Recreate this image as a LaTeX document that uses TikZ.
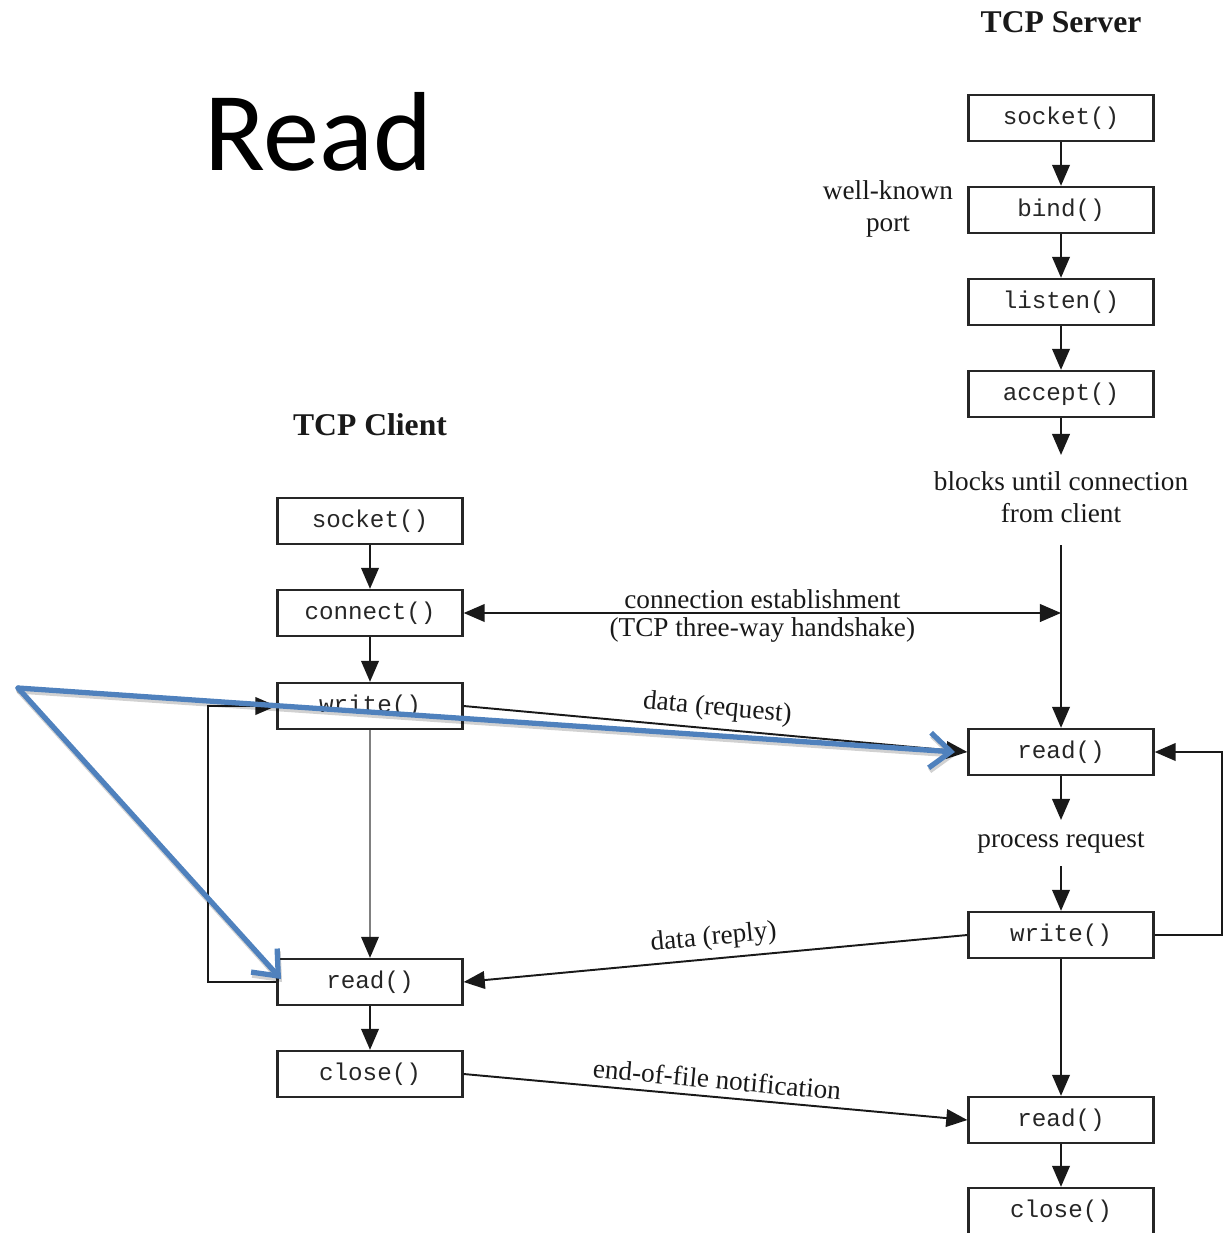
\documentclass[tikz,border=0pt]{standalone}
\usepackage{fontspec}
\setmainfont{Liberation Serif}
\setmonofont{Liberation Mono}
\newfontfamily\slidefont{Carlito}
\usetikzlibrary{arrows.meta}
\definecolor{callout}{RGB}{79,129,189}
\newlength{\pxu}
\setlength{\pxu}{0.02cm}
\tikzset{
  tip/.style={-{Triangle[length=12pt,width=10pt]}},
  fn/.style={draw=black!85, line width=1.3pt, minimum width=185\pxu, minimum height=46\pxu,
    inner sep=0pt, font=\ttfamily\fontsize{13.8}{14}\selectfont, text=black!85},
  lbl/.style={font=\fontsize{15.5}{18}\selectfont, text=black!90, inner sep=1pt},
  heading/.style={font=\bfseries\fontsize{18}{20}\selectfont, text=black!90},
  flow/.style={draw=black!90, line width=1.3pt, tip},
  msg/.style={draw=black!90, line width=1.1pt, tip},
  pointer/.style={draw=callout, line width=3pt, line cap=round, line join=round,
    -{Straight Barb[length=12pt,width=20pt,line width=3pt]}},
  pointershadow/.style={draw=black, opacity=0.18, line width=3pt, line cap=round, line join=round,
    -{Straight Barb[length=12pt,width=20pt,line width=3pt]}},
}
\begin{document}
\begin{tikzpicture}[x=0.02cm, y=-0.02cm]
\useasboundingbox (0,0) rectangle (1226,1233);
\clip (0,0) rectangle (1226,1233);

% slide title
\node[font=\slidefont\fontsize{64}{70}\selectfont, anchor=base] (title) at (318,171) {Read};

% column headings
\node[heading] (srvhead) at (1061,22) {TCP Server};
\node[heading] (clihead) at (370,425) {TCP Client};

% server calls
\node[fn] (ssock) at (1061,118) {socket()};
\node[fn] (sbind) at (1061,210) {bind()};
\node[fn] (slisten) at (1061,302) {listen()};
\node[fn] (saccept) at (1061,394) {accept()};
\node[lbl, align=center] (blocks) at (1061,497) {blocks until connection\\from client};
\coordinate (wait) at (1061,545);
\node[fn] (sread) at (1061,752) {read()};
\node[lbl] (proc) at (1061,843) {process request};
\node[fn] (swrite) at (1061,935) {write()};
\node[fn] (sread2) at (1061,1120) {read()};
\node[fn] (sclose) at (1061,1211) {close()};
\node[lbl, align=center] (wkp) at (888,209) {well-known\\port};

% client calls
\node[fn] (csock) at (370,521) {socket()};
\node[fn] (cconn) at (370,613) {connect()};
\node[fn] (cwrite) at (370,706) {write()};
\node[fn] (cread) at (370,982) {read()};
\node[fn] (cclose) at (370,1074) {close()};

% server flow
\draw[flow] (ssock) -- (sbind);
\draw[flow] (sbind) -- (slisten);
\draw[flow] (slisten) -- (saccept);
\draw[flow] (saccept.south) -- (1061,455);
\draw[flow] (wait) -- (sread);
\draw[flow] (sread.south) -- (1061,820);
\draw[flow] (1061,866) -- (swrite.north);
\draw[flow] (swrite) -- (sread2);
\draw[flow] (sread2) -- (sclose);
\coordinate (sloopA) at (1222,935);
\coordinate (sloopB) at (1222,752);
\draw[flow] (swrite.east) -- (sloopA) -- (sloopB) -- (sread.east);

% client flow
\draw[flow] (csock) -- (cconn);
\draw[flow] (cconn) -- (cwrite);
\draw[draw=black!50, line width=1.1pt, -{Triangle[length=12pt,width=10pt,color=black!90]}] (cwrite) -- (cread);
\draw[flow] (cread) -- (cclose);
\coordinate (cloopA) at (208,982);
\coordinate (cloopB) at (208,706);
\draw[flow] (cread.west) -- (cloopA) -- (cloopB) -- (cwrite.west);

% messages between the two hosts
\coordinate (hs) at (1061,613);
\draw[draw=black!90, line width=1.3pt, {Triangle[length=12pt,width=10pt]}-{Triangle[length=12pt,width=10pt]}]
  (cconn.east) -- (hs)
  node[lbl, midway, above=1pt] (hslbl) {connection establishment}
  node[lbl, midway, below=1pt] (hslbl2) {(TCP three-way handshake)};
\draw[msg] (cwrite.east) -- (sread.west) node[lbl, midway, above=3pt, sloped] (reqlbl) {data (request)};
\draw[msg] (swrite.west) -- (cread.east) node[lbl, midway, above=3pt, sloped] (replbl) {data (reply)};
\draw[msg] (cclose.east) -- (sread2.west) node[lbl, midway, above=3pt, sloped] (eoflbl) {end-of-file notification};

% callout arrows with a faint drop shadow
\coordinate (origin) at (18,688);
\coordinate (tipA) at (955,752);
\coordinate (tipB) at (281,979);
\coordinate (originS) at (19,691);
\coordinate (tipAS) at (956,755);
\coordinate (tipBS) at (282,982);
\draw[pointershadow] (originS) -- (tipAS);
\draw[pointershadow] (originS) -- (tipBS);
\draw[pointer] (origin) -- (tipA);
\draw[pointer] (origin) -- (tipB);
\end{tikzpicture}
\end{document}
